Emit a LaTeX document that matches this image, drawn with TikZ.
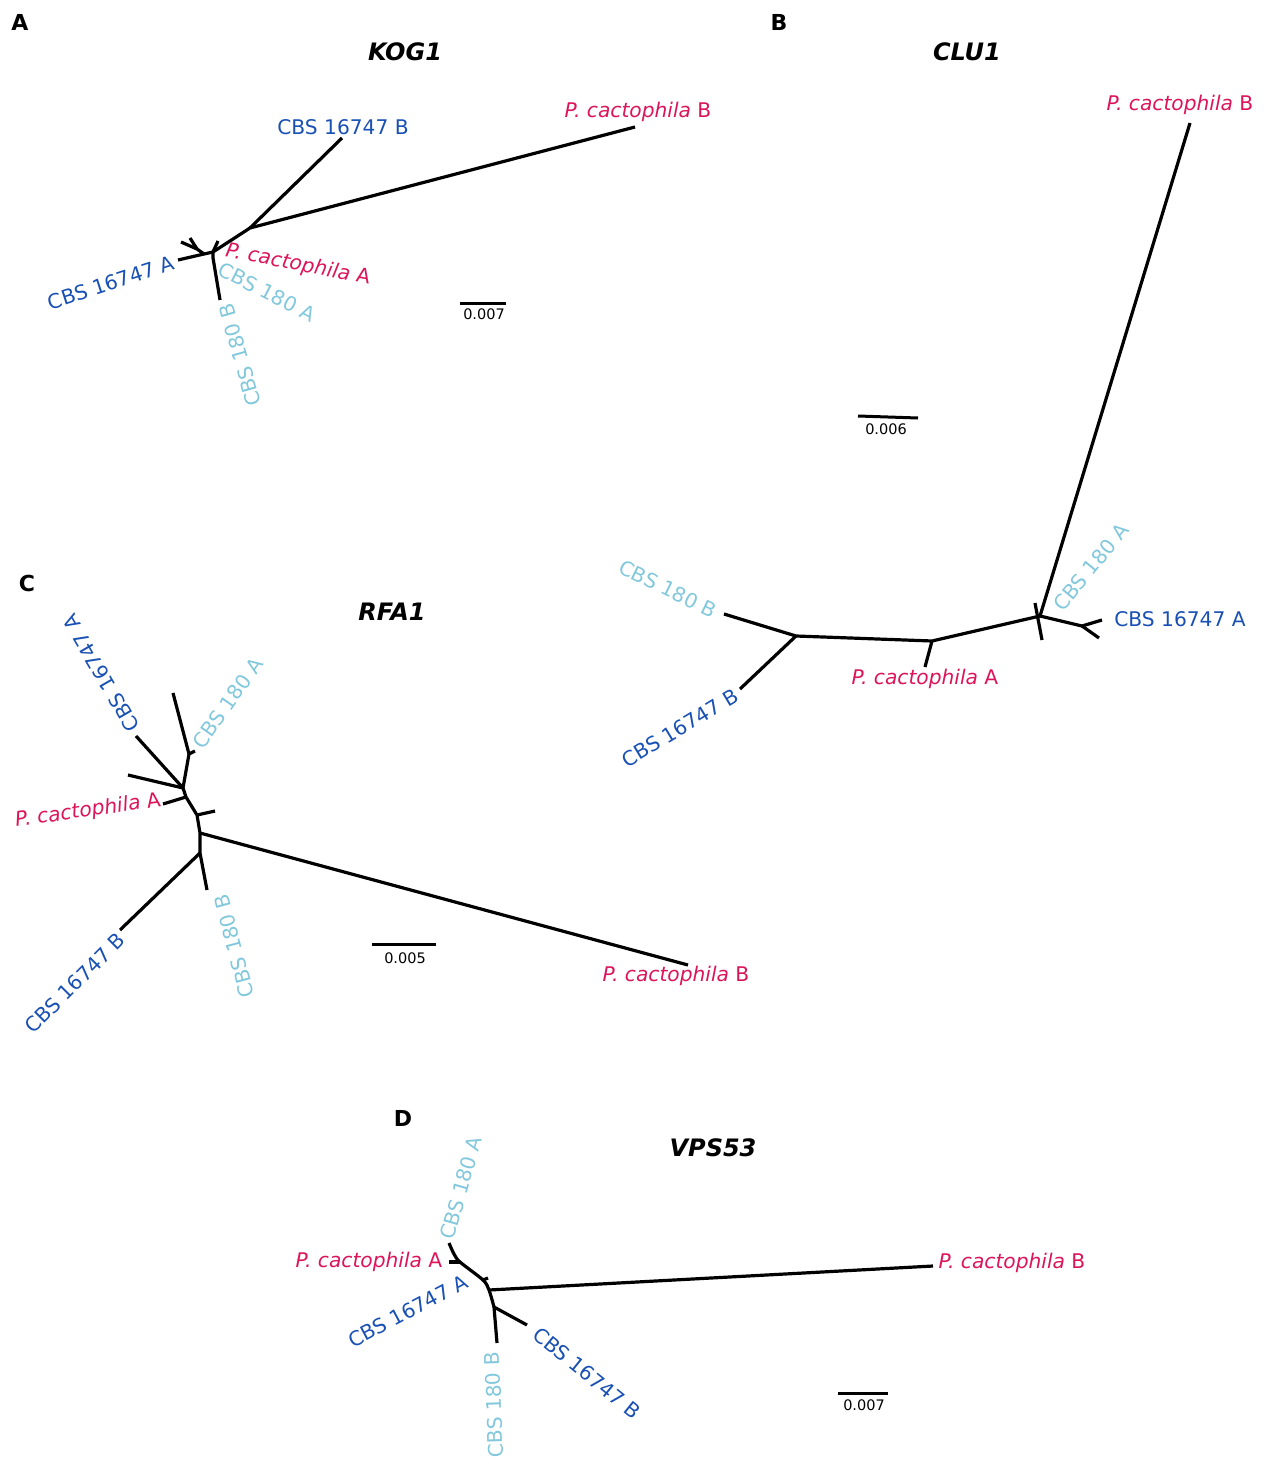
\documentclass[tikz,border=0pt]{standalone}
\usepackage{fontspec}
\setmainfont{DejaVu Sans}
\definecolor{pc}{RGB}{220,20,90}
\definecolor{db}{RGB}{25,80,180}
\definecolor{lb}{RGB}{130,200,220}
\tikzset{
 br/.style={line width=3.2pt, line join=round},
 lab/.style={font=\fontsize{20.2}{23}\selectfont, inner sep=0pt},
 pcl/.style={lab, text=pc},
 dbl/.style={lab, text=db},
 lbl/.style={lab, text=lb},
 ttl/.style={font=\fontsize{24}{28}\selectfont\bfseries\itshape, inner sep=0pt},
 pan/.style={font=\fontsize{22}{26}\selectfont\bfseries, inner sep=0pt},
 sc/.style={font=\fontsize{14.5}{16}\selectfont, inner sep=0pt},
 sbar/.style={line width=3pt}
}
\begin{document}
\begin{tikzpicture}[x=1pt,y=-1pt]
\useasboundingbox (0,0) rectangle (1264,1458);
% ---------- panel letters and titles
\node[pan] (pA) at (20,22) {A};
\node[pan] (pB) at (779,22) {B};
\node[pan] (pC) at (27,583) {C};
\node[pan] (pD) at (403,1118) {D};
\node[ttl] (tA) at (405,52) {KOG1};
\node[ttl] (tB) at (967,52) {CLU1};
\node[ttl] (tC) at (392,612) {RFA1};
\node[ttl] (tD) at (713,1148) {VPS53};
% ---------- Panel A
\coordinate (a0) at (213,252);
\coordinate (a1) at (250,228);
\coordinate (a2) at (204,254);
\coordinate (a4) at (197,249);
\coordinate (a3) at (213,258);
\coordinate (aPB) at (635,127);
\coordinate (aCB) at (342,138);
\coordinate (aCA) at (178,260);
\coordinate (aX1) at (181,242);
\coordinate (aX2) at (190,238);
\coordinate (aPA) at (218,241);
\coordinate (aLB) at (220,300);
\draw[br] (aPB) -- (a1) -- (a0) -- (a2) -- (aCA);
\draw[br] (a1) -- (aCB);
\draw[br] (a2) -- (a4) -- (aX1);
\draw[br] (a4) -- (aX2);
\draw[br] (a0) -- (aPA);
\draw[br] (a0) -- (a3) -- (aLB);
\node[dbl] (lACB) at (343,127) {CBS 16747 B};
\node[pcl] (lAPB) at (638,112) {\textit{P. cactophila} B};
\node[dbl, rotate=18] (lACA) at (111,283) {CBS 16747 A};
\node[pcl, rotate=-11] (lAPA) at (298,265) {\textit{P. cactophila} A};
\node[lbl, rotate=-27] (lALA) at (267,292) {CBS 180 A};
\node[lbl, rotate=106] (lALB) at (240,355) {CBS 180 B};
\coordinate (sA1) at (460,303);
\coordinate (sA2) at (506,303);
\draw[sbar] (sA1) -- (sA2);
\node[sc] (sAl) at (484,314) {0.007};
% ---------- Panel B
\coordinate (b0) at (1040,616);
\coordinate (bPB) at (1190,123);
\coordinate (bup) at (1035,603);
\coordinate (bdn) at (1042,640);
\coordinate (b1) at (1082,626);
\coordinate (bt1) at (1102,620);
\coordinate (bt2) at (1099,638);
\coordinate (b2) at (932,641);
\coordinate (bPA) at (925,667);
\coordinate (b3) at (796,636);
\coordinate (bLB) at (724,614);
\coordinate (bCB) at (740,689);
\draw[br] (bPB) -- (b0);
\draw[br] (bup) -- (bdn);
\draw[br] (b0) -- (b1) -- (bt1);
\draw[br] (b1) -- (bt2);
\draw[br] (b0) -- (b2) -- (b3) -- (bLB);
\draw[br] (b2) -- (bPA);
\draw[br] (b3) -- (bCB);
\node[pcl] (lBPB) at (1180,105) {\textit{P. cactophila} B};
\node[lbl, rotate=51] (lBLA) at (1091,567) {CBS 180 A};
\node[dbl] (lBCA) at (1180,619) {CBS 16747 A};
\node[pcl] (lBPA) at (925,679) {\textit{P. cactophila} A};
\node[lbl, rotate=-26] (lBLB) at (668,589) {CBS 180 B};
\node[dbl, rotate=31] (lBCB) at (680,728) {CBS 16747 B};
\coordinate (sB1) at (858,416);
\coordinate (sB2) at (918,418);
\draw[sbar] (sB1) -- (sB2);
\node[sc] (sBl) at (886,429) {0.006};
% ---------- Panel C
\coordinate (cLA) at (173,693);
\coordinate (c1) at (189,754);
\coordinate (cs1) at (195,751);
\coordinate (c2) at (183,788);
\coordinate (cCA) at (136,736);
\coordinate (cX) at (128,775);
\coordinate (c3) at (186,797);
\coordinate (cPA) at (163,804);
\coordinate (c4) at (197,815);
\coordinate (cs2) at (215,811);
\coordinate (c5) at (200,833);
\coordinate (cPB) at (688,965);
\coordinate (c6) at (200,853);
\coordinate (cCB) at (120,930);
\coordinate (cLB) at (207,890);
\draw[br] (cLA) -- (c1) -- (c2) -- (c3) -- (c4) -- (c5) -- (c6) -- (cLB);
\draw[br] (c1) -- (cs1);
\draw[br] (c2) -- (cCA);
\draw[br] (c2) -- (cX);
\draw[br] (c3) -- (cPA);
\draw[br] (c4) -- (cs2);
\draw[br] (c5) -- (cPB);
\draw[br] (c6) -- (cCB);
\node[dbl, rotate=120] (lCCA) at (101,673) {CBS 16747 A};
\node[lbl, rotate=55] (lCLA) at (228,703) {CBS 180 A};
\node[pcl, rotate=8] (lCPA) at (88,811) {\textit{P. cactophila} A};
\node[dbl, rotate=45] (lCCB) at (75,983) {CBS 16747 B};
\node[lbl, rotate=105] (lCLB) at (234,946) {CBS 180 B};
\node[pcl] (lCPB) at (676,976) {\textit{P. cactophila} B};
\coordinate (sC1) at (372,944);
\coordinate (sC2) at (436,944);
\draw[sbar] (sC1) -- (sC2);
\node[sc] (sCl) at (405,958) {0.005};
% ---------- Panel D
\coordinate (dLA) at (449,1243);
\coordinate (d0) at (454,1254);
\coordinate (d1) at (460,1262);
\coordinate (dPA) at (449,1262);
\coordinate (d2) at (483,1280);
\coordinate (dst) at (488,1278);
\coordinate (d3) at (489,1290);
\coordinate (dPB) at (933,1266);
\coordinate (d4) at (494,1307);
\coordinate (dCB) at (527,1325);
\coordinate (dLB) at (497,1343);
\draw[br] plot[smooth] coordinates {(dLA) (d0) (d1) (d2) (d3) (d4)};
\draw[br] (d4) -- (dLB);
\draw[br] (d1) -- (dPA);
\draw[br] (d2) -- (dst);
\draw[br] (d3) -- (dPB);
\draw[br] (d4) -- (dCB);
\node[lbl, rotate=74] (lDLA) at (461,1188) {CBS 180 A};
\node[pcl] (lDPA) at (369,1262) {\textit{P. cactophila} A};
\node[dbl, rotate=28] (lDCA) at (408,1311) {CBS 16747 A};
\node[lbl, rotate=92] (lDLB) at (494,1405) {CBS 180 B};
\node[dbl, rotate=-39] (lDCB) at (587,1373) {CBS 16747 B};
\node[pcl] (lDPB) at (1012,1263) {\textit{P. cactophila} B};
\coordinate (sD1) at (838,1393);
\coordinate (sD2) at (888,1393);
\draw[sbar] (sD1) -- (sD2);
\node[sc] (sDl) at (864,1405) {0.007};
\end{tikzpicture}
\end{document}
